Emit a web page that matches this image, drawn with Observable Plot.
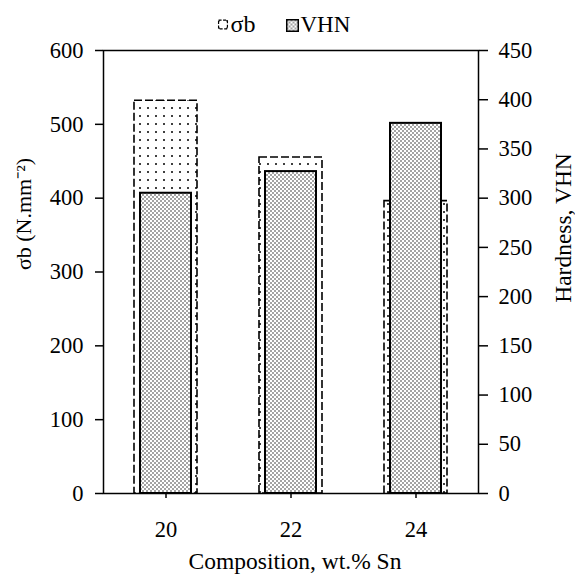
<!DOCTYPE html>
<html>
<head>
<meta charset="utf-8">
<script src="https://cdn.jsdelivr.net/npm/d3@7"></script>
<script src="https://cdn.jsdelivr.net/npm/@observablehq/plot@0.6"></script>
<style>
  html, body { margin: 0; padding: 0; background: #fff; }
  svg { display: block; }
  svg, svg text { font-family: 'Liberation Serif', 'Times New Roman', serif !important; }
</style>
</head>
<body>
<div id="chart"></div>
<script>
// ---- data ----
const composition = ["20", "22", "24"];          // wt.% Sn
const sigmaB = [532, 455, 396];                  // σb (N.mm^-2), left axis
const vhn = [305, 327, 376];                     // Hardness VHN, right axis
const series = ["σb", "VHN"];
const leftTicks = [0, 100, 200, 300, 400, 500, 600];
const rightTicks = [0, 50, 100, 150, 200, 250, 300, 350, 400, 450];
const leftMax = 600, rightMax = 450;

const k = leftMax / rightMax;
const rows = composition.map((c, i) => ({c, sb: sigmaB[i], hv: vhn[i], hvScaled: vhn[i] * k}));

const font = "'Liberation Serif', 'Times New Roman', serif";

const chart = Plot.plot({
  width: 575,
  height: 574,
  marginLeft: 103,
  marginRight: 97,
  marginTop: 50,
  marginBottom: 81,
  style: {fontFamily: font, fontSize: "22px", color: "#000", background: "#fff"},
  x: {type: "band", domain: composition, padding: 0},
  y: {domain: [0, leftMax]},
  marks: [
    Plot.barY(rows, {x: "c", y: "sb", fill: "url(#patSb)", stroke: "#000", strokeWidth: 1.6,
      strokeDasharray: "8,3", insetLeft: 31, insetRight: 31}),
    Plot.barY(rows, {x: "c", y: "hvScaled", fill: "url(#patHv)", stroke: "#000", strokeWidth: 2,
      insetLeft: 37, insetRight: 37}),
    Plot.frame({stroke: "#000", strokeWidth: 1.5}),
    Plot.axisY(leftTicks, {anchor: "left", tickSize: 8, tickPadding: 12, fontSize: 22.5, label: null, strokeWidth: 1.5}),
    Plot.axisY(rightTicks.map(v => v * k), {anchor: "right", tickSize: 9, tickPadding: 11, fontSize: 22.5,
      tickFormat: d => Math.round(d / k), label: null, strokeWidth: 1.5}),
    Plot.axisX({tickSize: 5, tickPadding: 23, fontSize: 22.5, label: null, strokeWidth: 1.5}),
    // axis titles
    Plot.text(["σb (N.mm⁻²)"], {frameAnchor: "left", rotate: -90, dx: -80, dy: -58, fontSize: 22,
      textAnchor: "middle", lineAnchor: "middle"}),
    Plot.text(["Hardness, VHN"], {frameAnchor: "right", rotate: -90, dx: 85, dy: -44, fontSize: 23.5,
      textAnchor: "middle", lineAnchor: "middle"}),
    Plot.text(["Composition, wt.% Sn"], {frameAnchor: "bottom", dx: 4, dy: 68, fontSize: 23.5,
      textAnchor: "middle", lineAnchor: "middle"}),
    // legend
    Plot.dot([series[0]], {frameAnchor: "top-left", dx: 119.5, dy: -26, symbol: "square", r: 5,
      fill: "url(#patSb)", stroke: "#000", strokeWidth: 1.2, strokeDasharray: "3,1.5"}),
    Plot.text([series[0]], {frameAnchor: "top-left", dx: 127, dy: -26, fontSize: 24,
      textAnchor: "start", lineAnchor: "middle"}),
    Plot.dot([series[1]], {frameAnchor: "top-left", dx: 189, dy: -25, symbol: "square", r: 6.5,
      fill: "url(#patHv)", stroke: "#000", strokeWidth: 1.5}),
    Plot.text([series[1]], {frameAnchor: "top-left", dx: 197, dy: -26, fontSize: 23,
      textAnchor: "start", lineAnchor: "middle"})
  ]
});

// pattern definitions
const defs = d3.select(chart).insert("svg:defs", ":first-child");
const pSb = defs.append("pattern").attr("id", "patSb").attr("patternUnits", "userSpaceOnUse")
  .attr("width", 8).attr("height", 8);
pSb.append("rect").attr("width", 8).attr("height", 8).attr("fill", "#fff");
pSb.append("circle").attr("cx", 4).attr("cy", 4).attr("r", 1).attr("fill", "#000");
const pHv = defs.append("pattern").attr("id", "patHv").attr("patternUnits", "userSpaceOnUse")
  .attr("width", 4).attr("height", 4);
pHv.append("rect").attr("width", 4).attr("height", 4).attr("fill", "#fff");
pHv.append("circle").attr("cx", 1).attr("cy", 1).attr("r", 0.7).attr("fill", "#000");
pHv.append("circle").attr("cx", 3).attr("cy", 3).attr("r", 0.7).attr("fill", "#000");

document.getElementById("chart").appendChild(chart);
</script>
</body>
</html>
